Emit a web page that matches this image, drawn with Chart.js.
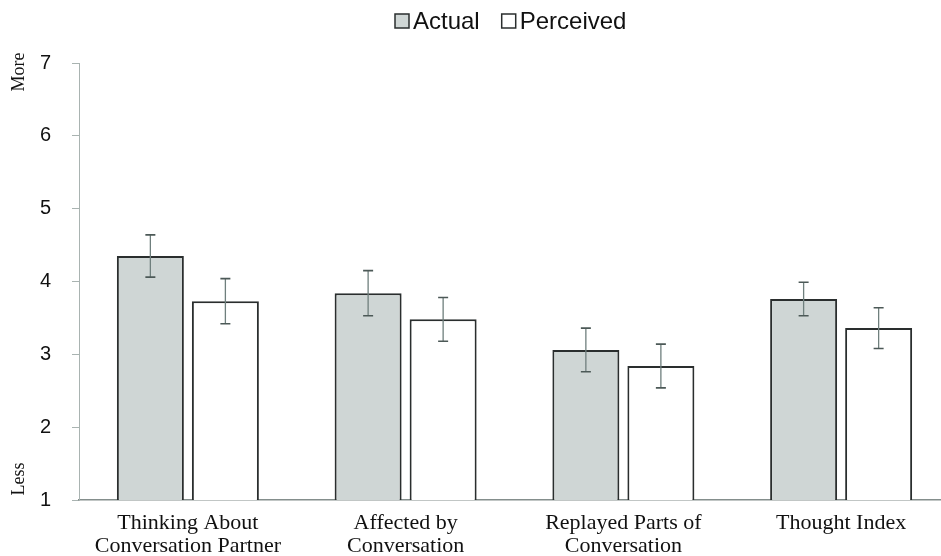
<!DOCTYPE html>
<html>
<head>
<meta charset="utf-8">
<script src="https://cdn.jsdelivr.net/npm/chart.js@4/dist/chart.umd.min.js"></script>
<style>
  html, body { margin: 0; padding: 0; background: #fff; overflow: hidden; }
  #wrap { width: 950px; height: 556px; }
</style>
</head>
<body>
<div id="wrap"><canvas id="c" width="950" height="556"></canvas></div>
<script>
// Ratings of thinking about the conversation afterwards (1 = less, 7 = more)
const categories = [
  ['Thinking About', 'Conversation Partner'],
  ['Affected by', 'Conversation'],
  ['Replayed Parts of', 'Conversation'],
  ['Thought Index']
];
const actualMeans = [4.35, 3.84, 3.06, 3.76];
const actualErrors = [0.29, 0.31, 0.30, 0.23];
const perceivedMeans = [3.73, 3.48, 2.84, 3.36];
const perceivedErrors = [0.31, 0.30, 0.30, 0.28];
const yTicks = [1, 2, 3, 4, 5, 6, 7];
const seriesNames = ['Actual', 'Perceived'];
const axisEndLabels = { top: 'More', bottom: 'Less' };

const ACTUAL_FILL = '#cfd6d5';
const OUTLINE = '#2a2e2e';

// Whiskers: mean ± error for every bar
const errorBars = {
  id: 'errorBars',
  afterDatasetsDraw(chart) {
    const ctx = chart.ctx;
    const y = chart.scales.y;
    chart.data.datasets.forEach((ds, di) => {
      const meta = chart.getDatasetMeta(di);
      meta.data.forEach((bar, i) => {
        const v = ds.data[i], e = ds.errors[i];
        const yTop = y.getPixelForValue(v + e);
        const yBot = y.getPixelForValue(v - e);
        const x = bar.x;
        ctx.save();
        ctx.strokeStyle = '#6f7f7d';
        ctx.lineWidth = 1.3;
        ctx.beginPath();
        ctx.moveTo(x, yTop); ctx.lineTo(x, yBot);
        ctx.stroke();
        ctx.strokeStyle = '#4c5957';
        ctx.lineWidth = 1.6;
        ctx.beginPath();
        ctx.moveTo(x - 5, yTop); ctx.lineTo(x + 5, yTop);
        ctx.moveTo(x - 5, yBot); ctx.lineTo(x + 5, yBot);
        ctx.stroke();
        ctx.restore();
      });
    });
  }
};

// Legend row with square swatches, and the More / Less axis notes
const decorations = {
  id: 'decorations',
  afterDraw(chart) {
    const ctx = chart.ctx;
    ctx.save();
    ctx.font = '24px "Liberation Sans", Arial, sans-serif';
    ctx.textBaseline = 'alphabetic';
    let x = 395;
    const fills = [ACTUAL_FILL, '#ffffff'];
    seriesNames.forEach((name, i) => {
      ctx.fillStyle = fills[i];
      ctx.fillRect(x, 14, 14, 14);
      ctx.strokeStyle = OUTLINE;
      ctx.lineWidth = 1.5;
      ctx.strokeRect(x, 14, 14, 14);
      ctx.fillStyle = '#111';
      ctx.fillText(name, x + 18, 29);
      x += 18 + ctx.measureText(name).width + 22;
    });

    ctx.font = '18px "Liberation Serif", "Times New Roman", serif';
    ctx.textAlign = 'center';
    ctx.textBaseline = 'middle';
    ctx.fillStyle = '#111';
    [[axisEndLabels.top, 72], [axisEndLabels.bottom, 479]].forEach(([t, cy]) => {
      ctx.save();
      ctx.translate(19, cy);
      ctx.rotate(-Math.PI / 2);
      ctx.fillText(t, 0, 0);
      ctx.restore();
    });
    ctx.restore();
  }
};

new Chart(document.getElementById('c'), {
  type: 'bar',
  data: {
    labels: categories,
    datasets: [
      {
        label: seriesNames[0],
        data: actualMeans,
        errors: actualErrors,
        backgroundColor: ACTUAL_FILL,
        borderColor: OUTLINE,
        borderWidth: 2,
        borderSkipped: false,
        categoryPercentage: 0.689,
        barPercentage: 0.893
      },
      {
        label: seriesNames[1],
        data: perceivedMeans,
        errors: perceivedErrors,
        backgroundColor: '#ffffff',
        borderColor: OUTLINE,
        borderWidth: 2,
        borderSkipped: false,
        categoryPercentage: 0.689,
        barPercentage: 0.893
      }
    ]
  },
  options: {
    responsive: false,
    animation: false,
    devicePixelRatio: 1,
    layout: { padding: { top: 63, left: 0, right: 0, bottom: 0 } },
    plugins: {
      legend: { display: false },
      tooltip: { enabled: false }
    },
    scales: {
      x: {
        grid: { display: true, drawOnChartArea: false, drawTicks: false },
        border: { display: true, color: '#848e8c', width: 1.5 },
        ticks: {
          padding: 12,
          color: '#111',
          font: { family: '"Liberation Serif", "Times New Roman", serif', size: 22, lineHeight: 1.04 },
          maxRotation: 0,
          autoSkip: false
        },
        afterFit(s) { s.height = 56; }
      },
      y: {
        min: yTicks[0],
        max: yTicks[yTicks.length - 1],
        afterBuildTicks(s) { s.ticks = yTicks.map(v => ({ value: v })); },
        grid: { display: true, drawOnChartArea: false, drawTicks: true, tickLength: 7, color: '#a9b3b1', lineWidth: 1 },
        border: { display: true, color: '#a9b3b1', width: 1 },
        ticks: {
          padding: 21,
          color: '#111',
          font: { family: '"Liberation Sans", Arial, sans-serif', size: 20 }
        },
        afterFit(s) { s.width = 79; }
      }
    }
  },
  plugins: [errorBars, decorations]
});
</script>
</body>
</html>
